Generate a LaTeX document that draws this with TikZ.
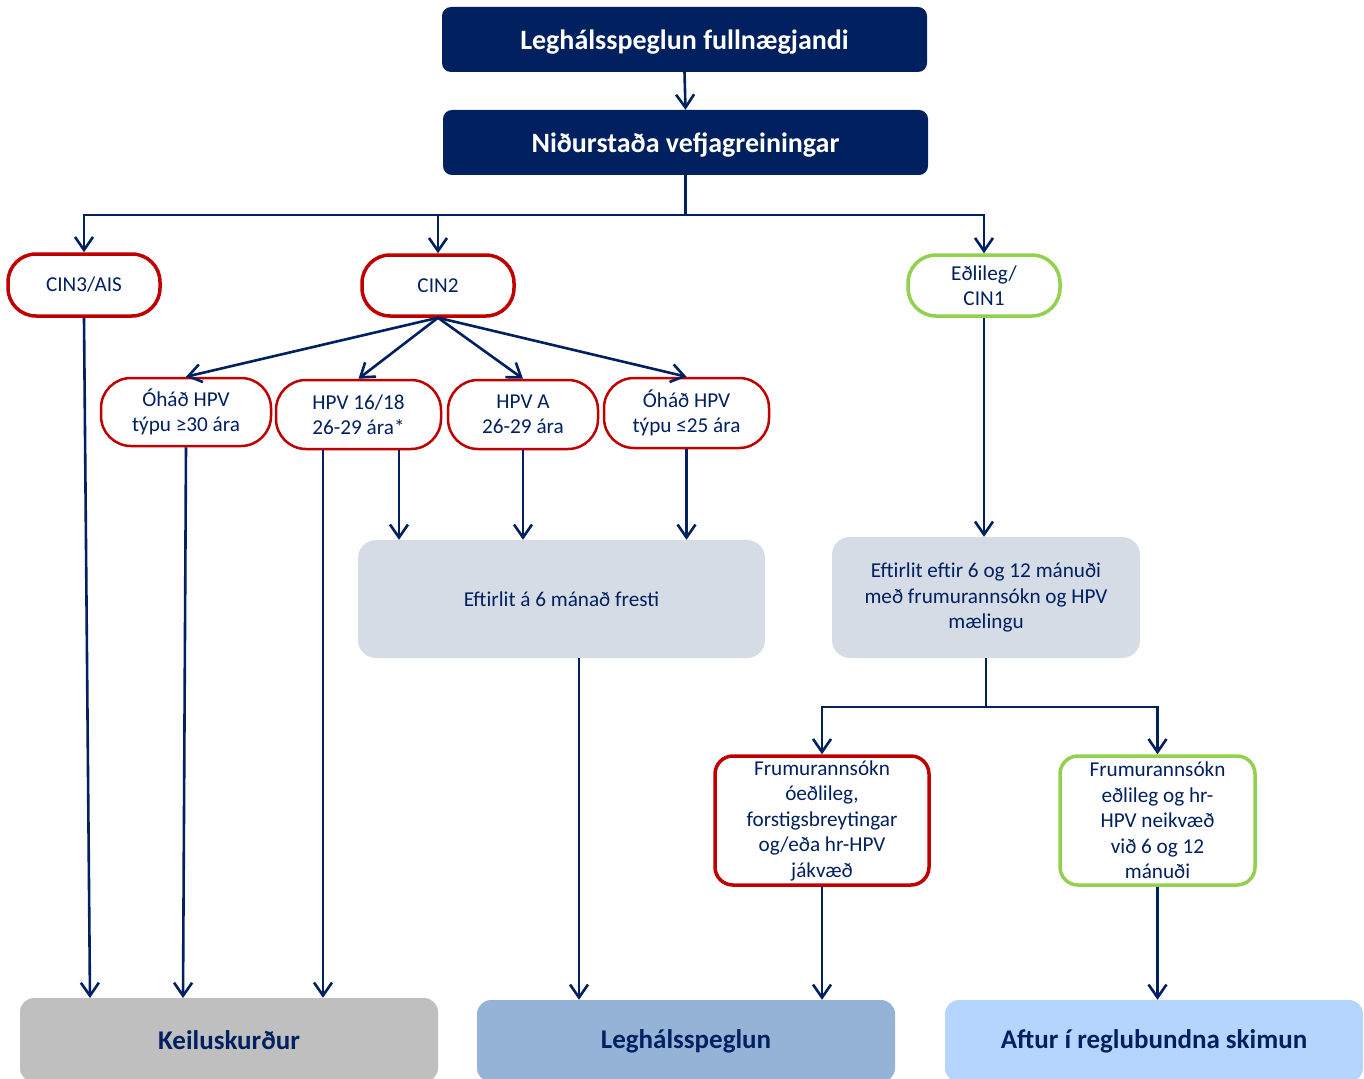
\documentclass[tikz,border=0pt]{standalone}
\usepackage{fontspec}
\setmainfont{Carlito}
\usetikzlibrary{arrows.meta}
\definecolor{navy}{RGB}{0,32,96}
\definecolor{cred}{RGB}{192,0,0}
\definecolor{cgreen}{RGB}{146,208,80}
\definecolor{lgray}{RGB}{214,220,229}
\definecolor{mgray}{RGB}{191,191,191}
\definecolor{mblue}{RGB}{149,179,215}
\definecolor{lblue}{RGB}{180,213,253}
\tikzset{
  darkbox/.style={fill=navy, rounded corners=9pt, text=white, inner sep=0pt,
    text height=21pt, text depth=0pt,
    font=\fontsize{28}{32}\selectfont\bfseries},
  smallfont/.style={text=navy, align=center, font=\fontsize{21.2}{25.5}\selectfont},
  pill/.style={smallfont, draw=cred, line width=3.5pt, rounded corners=28pt, fill=white, inner sep=0pt},
  gpill/.style={pill, draw=cgreen},
  hpv/.style={smallfont, draw=cred, line width=2.5pt, rounded corners=30pt, fill=white, inner sep=0pt},
  frbox/.style={smallfont, draw=cred, line width=3.5pt, rounded corners=18pt, fill=white, inner sep=0pt},
  gfrbox/.style={frbox, draw=cgreen},
  lightbox/.style={smallfont, fill=lgray, rounded corners=18pt, inner sep=0pt},
  endbox/.style={rounded corners=14pt, text=navy, inner sep=0pt,
    font=\fontsize{27}{31}\selectfont\bfseries},
  conn/.style={draw=navy, line width=2.6pt},
  arr/.style={conn, -{Straight Barb[length=13pt,width=18pt,line width=2.6pt]}},
}
\begin{document}
\begin{tikzpicture}[x=1pt,y=-1pt]
\clip (0,0) rectangle (1364,1078);
\fill[white] (0,0) rectangle (1364,1078);
% top boxes
\node[darkbox, minimum width=485pt, minimum height=65pt] (top1) at (684.5,39.5) {Leghálsspeglun fullnægjandi};
\node[darkbox, minimum width=485pt, minimum height=65pt] (top2) at (685.5,142.5) {Niðurstaða vefjagreiningar};
% first level
\node[pill, minimum width=152pt, minimum height=62pt] (cin3) at (84,285) {CIN3/AIS};
\node[pill, minimum width=152pt, minimum height=61pt] (cin2) at (438,285.5) {CIN2};
\node[gpill, minimum width=152pt, minimum height=61pt] (eol) at (984,285.5) {Eðlileg/\\CIN1};
% hpv nodes
\node[hpv, minimum width=170pt, minimum height=68pt] (h30) at (186,412) {Óháð HPV\\týpu ≥30 ára};
\node[hpv, minimum width=165pt, minimum height=69pt] (h16) at (358.5,414.5) {HPV 16/18\\26-29 ára*};
\node[hpv, minimum width=150pt, minimum height=69pt] (hA) at (523,414.5) {HPV A\\26-29 ára};
\node[hpv, minimum width=165pt, minimum height=70pt] (h25) at (686.5,413) {Óháð HPV\\týpu ≤25 ára};
% follow-up boxes
\node[lightbox, minimum width=407pt, minimum height=118pt] (eft6) at (561.5,599) {Eftirlit á 6 mánað fresti};
\node[lightbox, minimum width=308pt, minimum height=121pt] (eft612) at (986,597.5) {Eftirlit eftir 6 og 12 mánuði\\með frumurannsókn og HPV\\mælingu};
% cytology results
\node[frbox, minimum width=214pt, minimum height=129pt] (frR) at (822,820.5) {Frumurannsókn\\óeðlileg,\\forstigsbreytingar\\og/eða hr-HPV\\jákvæð};
\node[gfrbox, minimum width=195pt, minimum height=129pt] (frG) at (1157.5,820.5) {Frumurannsókn\\eðlileg og hr-\\HPV neikvæð\\við 6 og 12\\mánuði};
% end boxes
\node[endbox, fill=mgray, minimum width=418pt, minimum height=84pt] (keil) at (229,1040) {Keiluskurður};
\node[endbox, fill=mblue, minimum width=418pt, minimum height=82pt] (legh) at (686,1041) {Leghálsspeglun};
\node[endbox, fill=lblue, minimum width=418pt, minimum height=82pt] (aftur) at (1154,1041) {Aftur í reglubundna skimun};
% connectors
\draw[arr] (top1.south) -- (top2.north);
\coordinate (sp1) at (685.5,215);
\draw[conn] (top2.south) -- (sp1);
\draw[arr] (sp1) -| (cin3.north);
\draw[arr] (sp1) -| (cin2.north);
\draw[arr] (sp1) -| (eol.north);
\draw[arr] (cin2.south) -- (h30.north);
\draw[arr] (cin2.south) -- (h16.north);
\draw[arr] (cin2.south) -- (hA.north);
\draw[arr] (cin2.south) -- (h25.north);
\coordinate (k1) at (90,998);
\coordinate (k2) at (183,998);
\draw[arr] (cin3.south) -- (k1);
\draw[arr] (h30.south) -- (k2);
\draw[arr] ([xshift=-35.5pt]h16.south) -- ([xshift=-35.5pt]h16.south |- keil.north);
\draw[arr] ([xshift=40.5pt]h16.south) -- ([xshift=40.5pt]h16.south |- eft6.north);
\draw[arr] (hA.south) -- (hA.south |- eft6.north);
\draw[arr] (h25.south) -- (h25.south |- eft6.north);
\draw[arr] ([xshift=17.5pt]eft6.south) -- ([xshift=17.5pt]eft6.south |- legh.north);
\draw[arr] (eol.south) -- (eol.south |- eft612.north);
\coordinate (sp2) at (986,707);
\draw[conn] (eft612.south) -- (sp2);
\draw[arr] (sp2) -| (frR.north);
\draw[arr] (sp2) -| (frG.north);
\draw[arr] (frR.south) -- (frR.south |- legh.north);
\draw[arr] (frG.south) -- (frG.south |- aftur.north);
\end{tikzpicture}
\end{document}
